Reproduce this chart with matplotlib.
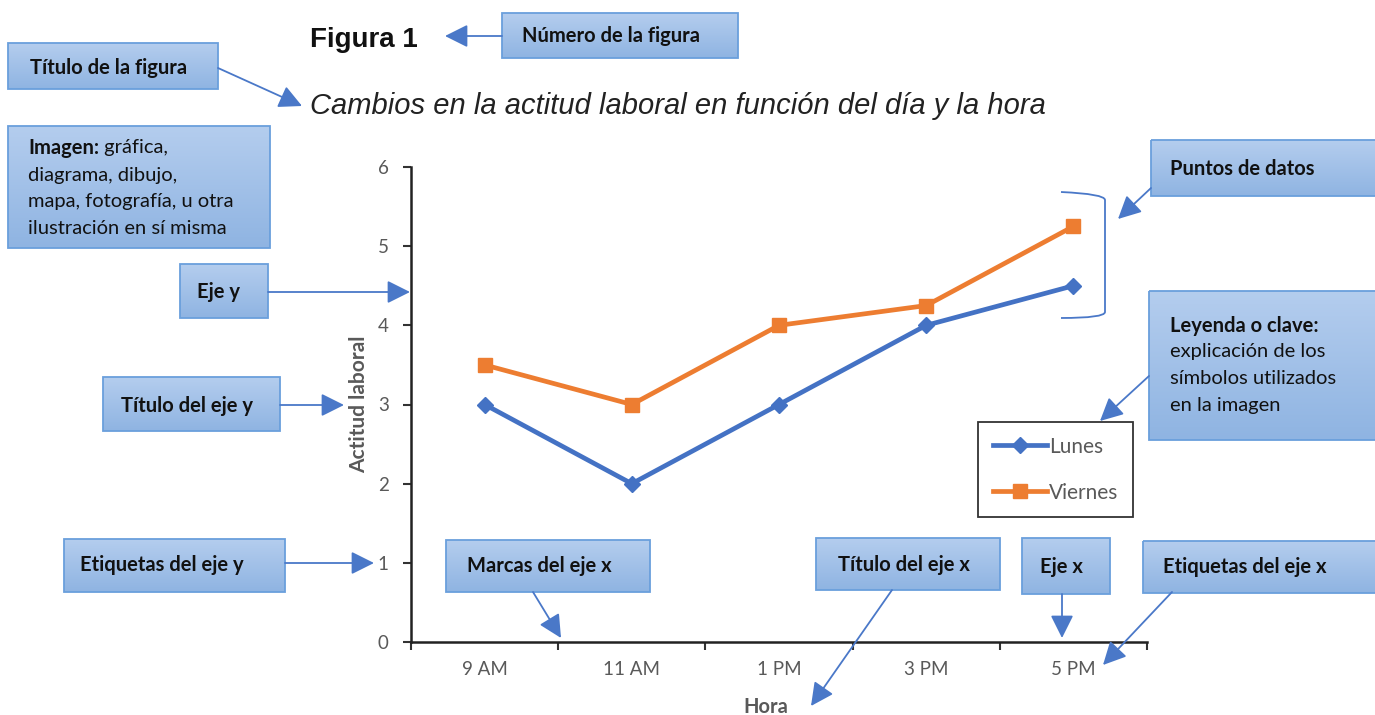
import matplotlib
matplotlib.use("Agg")
import matplotlib.pyplot as plt
import numpy as np
from matplotlib.patches import Rectangle, FancyArrowPatch, PathPatch
from matplotlib.path import Path

# ---- data ----
categories = ["9 AM", "11 AM", "1 PM", "3 PM", "5 PM"]
lunes = [3, 2, 3, 4, 4.5]
viernes = [3.5, 3, 4, 4.25, 5.25]
series_names = ["Lunes", "Viernes"]
y_ticks = [0, 1, 2, 3, 4, 5, 6]

BLUE = "#4472c4"
ORANGE = "#ed7d31"
GRAY = "#595959"
BODY = "Lato"

W, H = 1375, 715
fig = plt.figure(figsize=(W / 100, H / 100), dpi=100)

def px_ax(x0, y0, x1, y1):
    return [x0 / W, 1 - y1 / H, (x1 - x0) / W, (y1 - y0) / H]

ax = fig.add_axes(px_ax(411, 167, 1147, 642))
x = np.arange(len(categories))
ax.plot(x, lunes, color=BLUE, lw=3.4, marker="D", ms=8, label=series_names[0])
ax.plot(x, viernes, color=ORANGE, lw=3.4, marker="s", ms=10, label=series_names[1])
ax.set_xlim(-0.5, len(categories) - 0.5)
ax.set_ylim(0, 6)
ax.set_yticks(y_ticks)
ax.set_xticks(np.arange(len(categories) + 1) - 0.5)
ax.set_xticklabels([])
ax.set_xticks(x, minor=True)
ax.set_xticklabels(categories, minor=True)
ax.tick_params(axis="x", which="minor", length=0, pad=14, labelsize=13.5, labelcolor=GRAY)
ax.tick_params(axis="x", which="major", length=6, width=1.5, direction="out", color="#333333")
ax.tick_params(axis="y", length=6, width=1.5, direction="out", color="#333333", labelsize=13.5,
               labelcolor=GRAY, pad=10)
for lab in ax.get_xticklabels(minor=True) + ax.get_yticklabels():
    lab.set_fontfamily(BODY)
for s in ["top", "right"]:
    ax.spines[s].set_visible(False)
for s in ["left", "bottom"]:
    ax.spines[s].set_linewidth(1.8)
    ax.spines[s].set_color("#222222")
ax.set_ylabel("Actitud laboral", fontsize=15, fontweight="bold", color=GRAY, family=BODY)
ax.yaxis.set_label_coords(-(411 - 369) / 736, 0.5)
ax.set_xlabel("Hora", fontsize=14.5, fontweight="bold", color=GRAY, family=BODY)
ax.xaxis.set_label_coords((766 - 411) / 736, (642 - 707) / 475)
ax.xaxis.label.set_va("center")

leg = ax.legend(loc="upper left", bbox_to_anchor=((978 - 411) / 736, (642 - 422) / 475),
                frameon=True, fancybox=False, edgecolor="black",
                handlelength=2.6, handletextpad=0.1, labelspacing=1.25, borderpad=0.7,
                borderaxespad=0, prop={"family": BODY, "size": 15})
leg.get_frame().set_linewidth(1.3)
for t in leg.get_texts():
    t.set_color(GRAY)

# ---- overlay in pixel coordinates ----
ov = fig.add_axes([0, 0, 1, 1], zorder=5)
ov.axis("off")
ov.patch.set_alpha(0)

grad = np.linspace(0, 1, 64).reshape(-1, 1)
c_top = np.array([180, 205, 238]) / 255
c_bot = np.array([143, 180, 226]) / 255
grad_img = (c_top[None, None, :] * (1 - grad[:, :, None]) + c_bot[None, None, :] * grad[:, :, None])

def box(x0, y0, x1, y1):
    ov.imshow(grad_img, extent=(x0, x1, y1, y0), aspect="auto", zorder=2, interpolation="bilinear")
    ov.add_patch(Rectangle((x0, y0), x1 - x0, y1 - y0, fill=False, ec="#6a9fdc", lw=1.3, zorder=3))

def arrow(x0, y0, x1, y1):
    ov.add_patch(FancyArrowPatch((x0, y0), (x1, y1), arrowstyle="-|>,head_length=14,head_width=7",
                                 mutation_scale=1, color="#4a78c8", lw=1.3, zorder=4,
                                 shrinkA=0, shrinkB=0))

TF = dict(fontsize=14.5, family=BODY, color="#111111", va="center", ha="left", zorder=5)

boxes = [
    ((502, 13, 738, 58), "Número de la figura", (522, 36)),
    ((8, 43, 218, 89), "Título de la figura", (30, 68)),
    ((180, 264, 268, 318), "Eje y", (197, 292)),
    ((103, 377, 280, 431), "Título del eje y", (121, 406)),
    ((64, 539, 285, 592), "Etiquetas del eje y", (80, 565)),
    ((446, 540, 650, 592), "Marcas del eje x", (467, 566)),
    ((816, 538, 1000, 590), "Título del eje x", (838, 565)),
    ((1022, 538, 1110, 594), "Eje x", (1040, 567)),
    ((1143, 541, 1385, 593), "Etiquetas del eje x", (1163, 567)),
    ((1151, 140, 1385, 196), "Puntos de datos", (1170, 169)),
]
for (x0, y0, x1, y1), txt, (tx, ty) in boxes:
    box(x0, y0, x1, y1)
    ov.text(tx, ty, txt, fontweight="bold", **TF)

# multi-line boxes
box(8, 126, 270, 248)
t_img = ov.text(28, 148, "Imagen:", fontweight="bold", **TF)
ov.annotate(" gráfica,", xy=(1, 0.5), xycoords=t_img, fontsize=14.5, family=BODY,
            color="#111111", va="center", ha="left", zorder=5)
for i, t in enumerate(["diagrama, dibujo,", "mapa, fotografía, u otra", "ilustración en sí misma"]):
    ov.text(28, 175 + i * 26.5, t, **TF)

box(1149, 291, 1385, 440)
ov.text(1170, 326, "Leyenda o clave:", fontweight="bold", **TF)
for i, t in enumerate(["explicación de los", "símbolos utilizados", "en la imagen"]):
    ov.text(1170, 352 + i * 27, t, **TF)

# arrows
arrow(502, 36, 445, 36)
arrow(218, 68, 302, 106)
arrow(268, 292, 410, 292)
arrow(280, 405, 344, 405)
arrow(285, 563, 374, 563)
arrow(533, 592, 561, 638)
arrow(892, 590, 811, 706)
arrow(1062, 594, 1062, 638)
arrow(1172, 592, 1103, 665)
arrow(1151, 188, 1118, 219)
arrow(1149, 376, 1100, 421)

# bracket
ov.add_patch(PathPatch(Path([(1061, 192), (1105, 194), (1105, 200), (1105, 312), (1105, 318), (1061, 318)],
                            [Path.MOVETO, Path.CURVE3, Path.CURVE3, Path.LINETO, Path.CURVE3, Path.CURVE3]),
                       fill=False, ec="#4a78c8", lw=1.3, zorder=4))

# titles
ov.text(310, 40, "Figura 1", fontsize=20, fontweight="bold", family="Liberation Sans",
        color="#111111", va="center", ha="left")
ov.text(310, 106, "Cambios en la actitud laboral en función del día y la hora", fontsize=21,
        style="italic", family="Liberation Sans", color="#222222", va="center", ha="left")

ov.set_xlim(0, W)
ov.set_ylim(H, 0)

fig.savefig("out.png", dpi=100)
